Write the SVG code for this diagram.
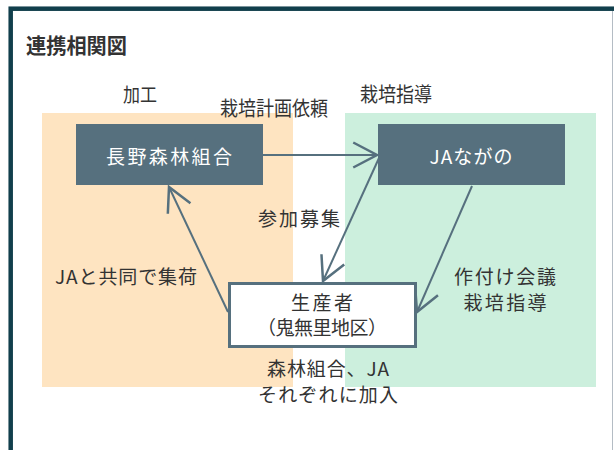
<svg xmlns="http://www.w3.org/2000/svg" width="614" height="450" viewBox="0 0 614 450">
<style>
.t{font-family:"Noto Sans CJK JP","Noto Sans",sans-serif;fill:#333333;font-size:19px}
.w{font-family:"Noto Sans CJK JP","Noto Sans",sans-serif;fill:#ffffff;font-size:19px}
.node{fill:#56707e}
.c{stroke:#56707e;stroke-width:2;fill:none}
</style>
<defs>
<marker id="ah" markerUnits="userSpaceOnUse" markerWidth="30" markerHeight="30" viewBox="-22 -12 24 24" refX="0" refY="0" orient="auto">
<path d="M-19,-10 L0,0 L-19,10" fill="none" stroke="#56707e" stroke-width="2"/>
</marker>
</defs>
<rect x="0" y="0" width="614" height="450" fill="#ffffff"/>
<rect x="10.7" y="8.7" width="640" height="460" fill="none" stroke="#113f4c" stroke-width="4.5"/>
<line x1="612.5" y1="11" x2="612.5" y2="450" stroke="#b4bcc4" stroke-width="1"/>
<text class="t" x="26" y="53" style="font-size:21px;font-weight:bold" textLength="101" lengthAdjust="spacingAndGlyphs">連携相関図</text>
<g id="area-kako">
<rect x="42" y="113" width="251" height="274" fill="#fee4c1"/>
<text class="t" x="140" y="102" text-anchor="middle" style="font-size:19px" textLength="34" lengthAdjust="spacingAndGlyphs">加工</text>
</g>
<g id="area-saibai">
<rect x="345" y="113" width="251" height="274" fill="#ccefdd"/>
<text class="t" x="396" y="102" text-anchor="middle" style="font-size:20px" textLength="72" lengthAdjust="spacingAndGlyphs">栽培指導</text>
</g>
<g id="connectors">
<line class="c" x1="263" y1="155" x2="377" y2="155" marker-end="url(#ah)"/>
<line class="c" x1="228" y1="312" x2="169" y2="187" marker-end="url(#ah)"/>
<line class="c" x1="379" y1="158" x2="323" y2="281" marker-end="url(#ah)"/>
<line class="c" x1="472" y1="186" x2="417" y2="312" marker-end="url(#ah)"/>
<text class="t" x="274" y="116" text-anchor="middle" style="font-size:20px" textLength="108" lengthAdjust="spacingAndGlyphs">栽培計画依頼</text>
<text class="t" x="299" y="226" text-anchor="middle" textLength="82">参加募集</text>
<text class="t" x="126" y="284" text-anchor="middle" textLength="142">JAと共同で集荷</text>
<text class="t" x="505" y="284" text-anchor="middle" textLength="102">作付け会議</text>
<text class="t" x="505" y="310" text-anchor="middle" textLength="83">栽培指導</text>
<text class="t" x="328" y="376" text-anchor="middle" textLength="122">森林組合、JA</text>
<text class="t" x="328" y="402" text-anchor="middle" textLength="140">それぞれに加入</text>
</g>
<g id="node-shinrin">
<rect class="node" x="76" y="124" width="187" height="61"/>
<text class="w" x="169" y="164" text-anchor="middle" textLength="126">長野森林組合</text>
</g>
<g id="node-ja">
<rect class="node" x="378" y="124" width="187" height="61"/>
<text class="w" x="471" y="164" text-anchor="middle" textLength="83">JAながの</text>
</g>
<g id="node-seisansha">
<rect x="229.5" y="283.5" width="186" height="63" fill="#ffffff" stroke="#56707e" stroke-width="3"/>
<text class="t" x="322" y="310" text-anchor="middle" textLength="62">生産者</text>
<text class="t" x="322" y="335" text-anchor="middle" textLength="130">（鬼無里地区）</text>
</g>
</svg>
